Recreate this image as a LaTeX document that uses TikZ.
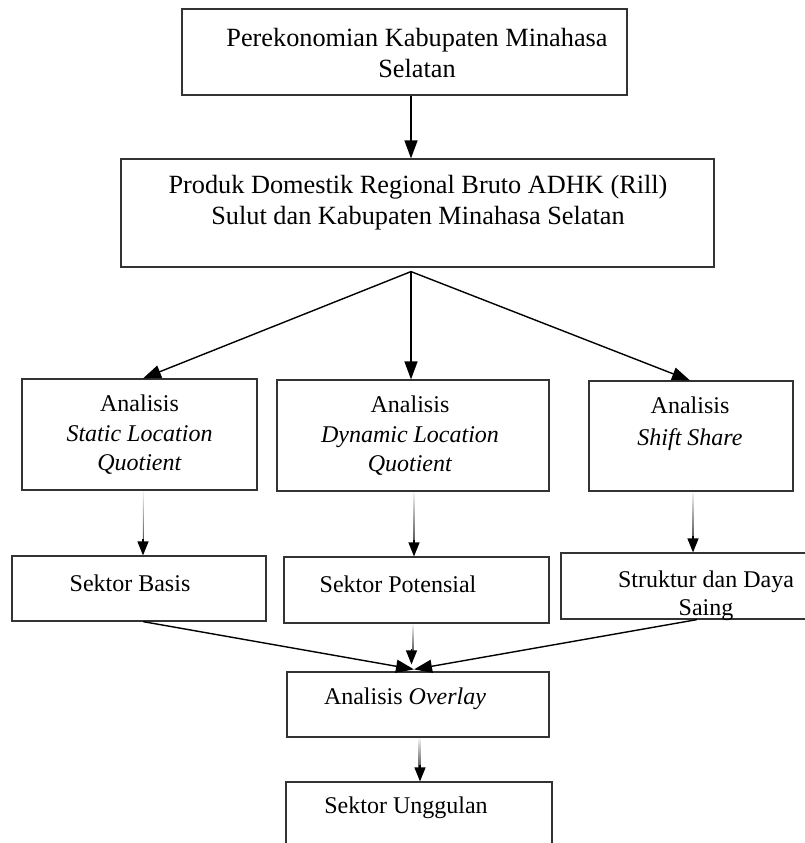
\documentclass[tikz,border=0pt]{standalone}
\usepackage{fontspec}
\setmainfont{Liberation Serif}
\usetikzlibrary{arrows.meta}
\begin{document}
\begin{tikzpicture}[x=1pt,y=-1pt,
  box/.style={draw=black!80, line width=1.2pt, inner sep=0pt, rectangle},
  txt/.style={align=center, inner sep=0pt, font=\fontsize{24}{30}\selectfont},
  bigtxt/.style={align=center, inner sep=0pt, font=\fontsize{26.3}{31}\selectfont},
  arr/.style={line width=1.4pt, -{Triangle[length=18pt,width=13pt]}},
  fadeline/.style={top color=black!5, bottom color=black!70},
  fadetip/.style={line width=1.2pt, -{Triangle[length=14pt,width=11pt]}},
]
\useasboundingbox (0,0) rectangle (804,843);

% boxes
\node[box, minimum width=445pt, minimum height=86pt] (top) at (404.5,52) {};
\node[box, minimum width=593pt, minimum height=108pt] (pdrb) at (417.5,213) {};
\node[box, minimum width=235pt, minimum height=111pt] (slq) at (139.5,434.5) {};
\node[box, minimum width=272pt, minimum height=111pt] (dlq) at (413,435.5) {};
\node[box, minimum width=204pt, minimum height=110pt] (ss) at (691,436) {};
\node[box, minimum width=254pt, minimum height=65pt] (basis) at (139,588.5) {};
\node[box, minimum width=265pt, minimum height=66pt] (potensial) at (416.5,590) {};
\node[box, minimum width=245pt, minimum height=66pt] (struktur) at (683.5,586) {};
\node[box, minimum width=262pt, minimum height=65pt] (overlay) at (418,704.5) {};
\node[box, minimum width=266pt, minimum height=70pt] (unggulan) at (419,817) {};

% texts
\node[bigtxt] (ttop) at (417,53) {Perekonomian Kabupaten Minahasa\\Selatan};
\node[bigtxt] (tpdrb) at (418,203) {Produk Domestik Regional Bruto ADHK (Rill)\\Sulut dan Kabupaten Minahasa Selatan};
\node[txt, font=\fontsize{24}{29.5}\selectfont] (tslq) at (139.5,435) {Analisis\\\textit{Static Location}\\\textit{Quotient}};
\node[txt, font=\fontsize{24}{29.5}\selectfont] (tdlq) at (410,436) {Analisis\\\textit{Dynamic Location}\\\textit{Quotient}};
\node[txt, font=\fontsize{24}{32}\selectfont] (tss) at (690,424) {Analisis\\\textit{Shift Share}};
\node[txt] (tbasis) at (130,583) {Sektor Basis};
\node[txt] (tpot) at (398,584) {Sektor Potensial};
\node[txt, font=\fontsize{24}{28}\selectfont] (tstr) at (706,596) {Struktur dan Daya\\Saing};
\node[txt] (tover) at (405,699) {Analisis \textit{Overlay}};
\node[txt] (tung) at (406,808) {Sektor Unggulan};

% connectors
\coordinate (apex) at ([xshift=-6.5pt,yshift=-4pt]pdrb.south);
\draw[arr] (top.south -| apex) -- (pdrb.north -| apex);
\draw[arr] (apex) -- ([xshift=3.5pt]slq.north);
\draw[arr] (apex) -- (dlq.north -| apex);
\draw[arr] (apex) -- ([xshift=-1pt]ss.north);

% faded vertical connectors
\shade[fadeline] ([xshift=3.3pt,yshift=-1pt]slq.south) rectangle ([xshift=4.7pt,yshift=12pt]basis.north);
\draw[fadetip] ([xshift=4pt,yshift=16pt]basis.north) -- ([xshift=4pt]basis.north);
\shade[fadeline] ([xshift=0.3pt,yshift=-1pt]dlq.south) rectangle ([xshift=1.7pt,yshift=12pt]potensial.north -| dlq.south);
\draw[fadetip] ([xshift=1pt,yshift=16pt]potensial.north -| dlq.south) -- ([xshift=1pt]potensial.north -| dlq.south);
\shade[fadeline] ([xshift=1.3pt,yshift=-1pt]ss.south) rectangle ([xshift=2.7pt,yshift=12pt]struktur.north -| ss.south);
\draw[fadetip] ([xshift=2pt,yshift=16pt]struktur.north -| ss.south) -- ([xshift=2pt]struktur.north -| ss.south);

% converging
\coordinate (meet) at ([xshift=-4pt,yshift=2pt]overlay.north);
\draw[arr] ([xshift=4pt]basis.south) -- (meet);
\draw[arr] ([xshift=13.5pt]struktur.south) -- (meet);
\shade[fadeline] ([xshift=-3.2pt,yshift=-1pt]potensial.south) rectangle ([xshift=-1.8pt,yshift=16pt]meet);
\draw[fadetip] ([xshift=-2.5pt,yshift=20pt]meet) -- ([xshift=-2.5pt,yshift=5pt]meet);

\shade[fadeline] ([xshift=0.3pt,yshift=-1pt]overlay.south) rectangle ([xshift=1.7pt,yshift=12pt]unggulan.north);
\draw[fadetip] ([xshift=1pt,yshift=16pt]unggulan.north) -- ([xshift=1pt]unggulan.north);
\end{tikzpicture}
\end{document}
